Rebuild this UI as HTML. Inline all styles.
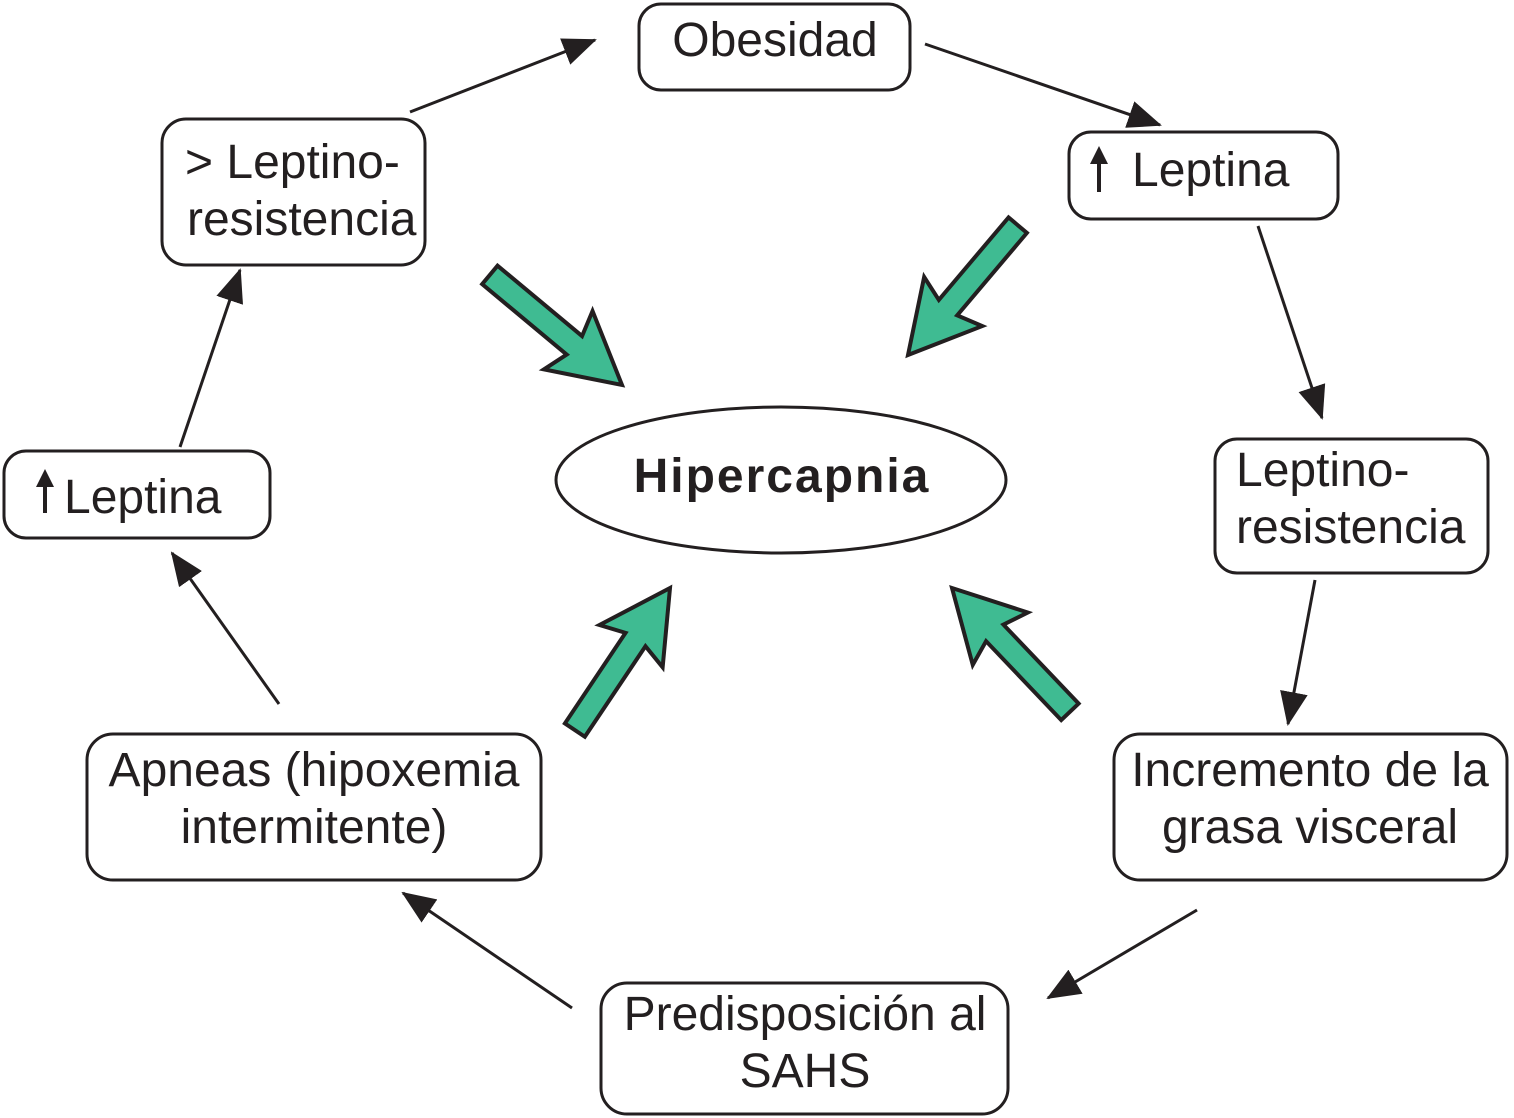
<!DOCTYPE html>
<html><head><meta charset="utf-8"><style>
html,body{margin:0;padding:0;background:#fff}
svg{display:block}
text{font-family:"Liberation Sans",Arial,sans-serif;font-size:48px;fill:#231f20}
</style></head><body>
<svg width="1514" height="1118" viewBox="0 0 1514 1118">
<defs>
<marker id="ah" markerWidth="34" markerHeight="28" refX="32" refY="14" orient="auto" markerUnits="userSpaceOnUse">
<path d="M0,0 L34,14 L0,28 Z" fill="#231f20"/>
</marker>
</defs>
<g fill="none" stroke="#231f20" stroke-width="3">
<rect x="639" y="4" width="271" height="86" rx="22"/>
<rect x="1069" y="132" width="269" height="87" rx="22"/>
<rect x="1215" y="439" width="273" height="134" rx="22"/>
<rect x="1114" y="734" width="393" height="146" rx="26"/>
<rect x="601" y="983" width="407" height="131" rx="26"/>
<rect x="87" y="734" width="454" height="146" rx="26"/>
<rect x="4" y="451" width="266" height="87" rx="22"/>
<rect x="162" y="119" width="263" height="146" rx="24"/>
<ellipse cx="781" cy="480" rx="225" ry="73"/>
</g>
<g stroke="#231f20" stroke-width="3" marker-end="url(#ah)">
<line x1="410" y1="112" x2="595" y2="40"/>
<line x1="925" y1="44" x2="1160" y2="125"/>
<line x1="1258" y1="226" x2="1322" y2="418"/>
<line x1="1315" y1="580" x2="1288" y2="724"/>
<line x1="1197" y1="910" x2="1048" y2="998"/>
<line x1="572" y1="1008" x2="403" y2="893"/>
<line x1="279" y1="704" x2="172" y2="553"/>
<line x1="180" y1="447" x2="240" y2="270"/>
</g>
<g fill="#3fbb92" stroke="#231f20" stroke-width="4" stroke-linejoin="miter">
<polygon transform="translate(622,385) rotate(39.8)" points="0,0 -70,-38 -62,-12 -172,-12 -172,12 -62,12 -70,38"/>
<polygon transform="translate(908,355) rotate(130.2)" points="0,0 -70,-38 -62,-12 -170,-12 -170,12 -62,12 -70,38"/>
<polygon transform="translate(670,588) rotate(-56.2)" points="0,0 -70,-38 -62,-12 -171,-12 -171,12 -62,12 -70,38"/>
<polygon transform="translate(952,588) rotate(-133.6)" points="0,0 -70,-38 -62,-12 -171,-12 -171,12 -62,12 -70,38"/>
</g>
<g fill="#231f20">
<rect x="43" y="485" width="4" height="28"/><polygon points="36,487 45,469 54,487"/>
<rect x="1097" y="162" width="4" height="30"/><polygon points="1090,164 1099,146 1108,164"/>
</g>
<text x="775" y="56" text-anchor="middle">Obesidad</text>
<text x="1132" y="186">Leptina</text>
<text x="1236" y="486">Leptino-</text>
<text x="1236" y="543">resistencia</text>
<text x="1310" y="786" text-anchor="middle">Incremento de la</text>
<text x="1310" y="843" text-anchor="middle">grasa visceral</text>
<text x="805" y="1030" text-anchor="middle">Predisposición al</text>
<text x="805" y="1087" text-anchor="middle">SAHS</text>
<text x="314" y="786" text-anchor="middle">Apneas (hipoxemia</text>
<text x="314" y="843" text-anchor="middle">intermitente)</text>
<text x="64" y="513">Leptina</text>
<text x="185" y="178">&gt; Leptino-</text>
<text x="187" y="235">resistencia</text>
<text x="782" y="492" text-anchor="middle" font-weight="bold" font-size="52" letter-spacing="2">Hipercapnia</text>
</svg>
</body></html>
